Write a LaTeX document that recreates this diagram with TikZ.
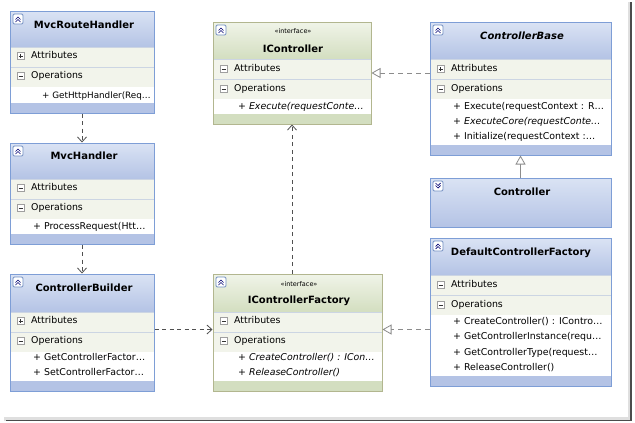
\documentclass[tikz,border=0pt]{standalone}
\usepackage{fontspec}
\setmainfont{DejaVu Sans}
\usetikzlibrary{arrows.meta,calc,fit,positioning}

\definecolor{clsline}{HTML}{7E9ED6}
\definecolor{clstop}{HTML}{DAE3F4}
\definecolor{clsbot}{HTML}{B4C3E5}
\definecolor{ifcline}{HTML}{B2B68F}
\definecolor{ifctop}{HTML}{F0F4E8}
\definecolor{ifcbot}{HTML}{D3DEC0}
\definecolor{rowfill}{HTML}{F2F4EB}
\definecolor{rowline}{HTML}{CCD5E3}
\definecolor{depgray}{HTML}{505050}
\definecolor{relgray}{HTML}{8C8C8C}

% class frame: name, left, top, right, header bottom, bottom, kind (cls/ifc)
\newcommand{\umlbox}[7]{%
  \shade[top color=#7top, bottom color=#7bot] (#2,#3) rectangle (#4,#5);
  \fill[rowfill] (#2,#5) rectangle (#4,#5+40);
  \fill[white] (#2,#5+40) rectangle (#4,#6-10);
  \fill[#7bot] (#2,#6-10) rectangle (#4,#6);
  \draw[rowline] (#2,#5) -- (#4,#5) (#2,#5+20) -- (#4,#5+20);
  \node[draw=#7line, line width=1pt, inner sep=0pt, fit={(#2,#3) (#4,#6)}] (#1) {};
}
% collapse button: top-left x, y, 1 = open, -1 = closed
\newcommand{\foldicon}[3]{%
  \draw[iconline, fill=white, rounded corners=1.2pt] (#1,#2) rectangle ++(10,10);
  \begin{scope}[shift={(#1+5,#2+5)}, yscale=#3]
    \draw[iconmark] (-2.5,0.5) -- (0,-2) -- (2.5,0.5) (-2.5,3) -- (0,0.5) -- (2.5,3);
  \end{scope}
}
% compartment button: centre x, y, 1 = plus
\newcommand{\expbox}[3]{%
  \draw[expline, fill=white] (#1-3.5,#2-3.5) rectangle (#1+3.5,#2+3.5);
  \draw[expmark] (#1-2,#2) -- (#1+2,#2);
  \ifnum#3=1 \draw[expmark] (#1,#2-2) -- (#1,#2+2);\fi
}

\begin{document}
\begin{tikzpicture}[
  x=1pt, y=-1pt,
  font=\fontsize{9.4}{10}\selectfont,
  iconline/.style={draw=clsline!90!black, line width=0.8pt},
  iconmark/.style={draw=blue!45!black, line width=0.7pt},
  expline/.style={draw=gray!75, line width=0.6pt},
  expmark/.style={draw=black!80, line width=0.8pt},
  title/.style={inner sep=0pt, font=\fontsize{10}{11}\selectfont\bfseries},
  stereo/.style={inner sep=0pt, font=\fontsize{6.5}{7}\selectfont},
  comp/.style={anchor=west, inner sep=0pt, text height=7pt, text depth=2pt},
  member/.style={anchor=west, inner sep=0pt, text height=7pt, text depth=2pt},
  dep/.style={draw=depgray, line width=0.8pt, dash pattern=on 4pt off 3.5pt,
    -{Straight Barb[length=5pt,width=9pt]}},
  real/.style={draw=relgray, line width=0.8pt, dash pattern=on 5pt off 4pt,
    -{Triangle[open,length=9pt,width=10pt,fill=white]}},
  gen/.style={draw=relgray, line width=0.8pt,
    -{Triangle[open,length=9pt,width=10pt,fill=white]}}
]
\fill[white] (0,0) rectangle (635,423);
\useasboundingbox (0,0) rectangle (635,423);

% window shadow
\fill[gray!25] (628,2) rectangle (632,421);
\fill[gray!25] (4,417) rectangle (632,421);
\draw[black!70, line width=1.4pt] (631,2) -- (631,420.3) -- (6,420.3);

% MvcRouteHandler
\umlbox{mrh}{10}{11}{154}{47}{113}{cls}
\foldicon{13}{14}{1}
\node[title] (mrh-t) at (84,25) {MvcRouteHandler};
\expbox{20.5}{56}{1}
\node[comp] (mrh-a) at (31,56) {Attributes};
\expbox{20.5}{76}{0}
\node[comp] (mrh-o) at (31,76) {Operations};
\node[member, font=\fontsize{8.8}{10}\selectfont] (mrh-m1) at (42,96) {+ GetHttpHandler(Req\dots};

% MvcHandler
\umlbox{mh}{10}{143}{154}{179}{244}{cls}
\foldicon{13}{146}{1}
\node[title] (mh-t) at (84,156) {MvcHandler};
\expbox{20.5}{188}{0}
\node[comp] (mh-a) at (31,188) {Attributes};
\expbox{20.5}{208}{0}
\node[comp] (mh-o) at (31,208) {Operations};
\node[member] (mh-m1) at (33,227) {+ ProcessRequest(Htt\dots};

% ControllerBuilder
\umlbox{cb}{10}{274}{154}{312}{391}{cls}
\foldicon{13}{277}{1}
\node[title] (cb-t) at (84,288) {ControllerBuilder};
\expbox{20.5}{321}{1}
\node[comp] (cb-a) at (31,321) {Attributes};
\expbox{20.5}{341}{0}
\node[comp] (cb-o) at (31,341) {Operations};
\node[member] (cb-m1) at (33,358) {+ GetControllerFactor\dots};
\node[member] (cb-m2) at (33,373) {+ SetControllerFactor\dots};

% IController
\umlbox{ictl}{213}{22}{371}{59}{124}{ifc}
\foldicon{216}{25}{1}
\node[stereo] (ictl-s) at (293,31) {«interface»};
\node[title] (ictl-t) at (293,49) {IController};
\expbox{223.5}{69}{0}
\node[comp] (ictl-a) at (234,69) {Attributes};
\expbox{223.5}{89}{0}
\node[comp] (ictl-o) at (234,89) {Operations};
\node[member, font=\fontsize{9.4}{10}\selectfont\itshape] (ictl-m1) at (238,107) {+ Execute(requestConte\dots};

% IControllerFactory
\umlbox{icf}{213}{274}{382}{312}{391}{ifc}
\foldicon{216}{277}{1}
\node[stereo] (icf-s) at (299,284) {«interface»};
\node[title] (icf-t) at (299,301) {IControllerFactory};
\expbox{223.5}{321}{0}
\node[comp] (icf-a) at (234,321) {Attributes};
\expbox{223.5}{341}{0}
\node[comp] (icf-o) at (234,341) {Operations};
\node[member, font=\fontsize{9.4}{10}\selectfont\itshape] (icf-m1) at (238,358) {+ CreateController() : ICon\dots};
\node[member, font=\fontsize{9.4}{10}\selectfont\itshape] (icf-m2) at (238,373) {+ ReleaseController()};

% ControllerBase
\umlbox{cbase}{430}{22}{611}{59}{155}{cls}
\foldicon{433}{25}{1}
\node[title, font=\fontsize{10}{11}\selectfont\bfseries\itshape] (cbase-t) at (522,36) {ControllerBase};
\expbox{440.5}{69}{1}
\node[comp] (cbase-a) at (451,69) {Attributes};
\expbox{440.5}{89}{0}
\node[comp] (cbase-o) at (451,89) {Operations};
\node[member] (cbase-m1) at (453,107) {+ Execute(requestContext : R\dots};
\node[member, font=\fontsize{9.4}{10}\selectfont\itshape] (cbase-m2) at (453,122) {+ ExecuteCore(requestConte\dots};
\node[member] (cbase-m3) at (453,137) {+ Initialize(requestContext :\dots};

% Controller (collapsed)
\shade[top color=clstop, bottom color=clsbot] (430,178) rectangle (611,227);
\node[draw=clsline, line width=1pt, inner sep=0pt, fit={(430,178) (611,227)}] (ctl) {};
\foldicon{433}{181}{-1}
\node[title] (ctl-t) at (522,192) {Controller};

% DefaultControllerFactory
\umlbox{dcf}{430}{238}{611}{275}{386}{cls}
\foldicon{433}{241}{1}
\node[title] (dcf-t) at (521,253) {DefaultControllerFactory};
\expbox{440.5}{285}{0}
\node[comp] (dcf-a) at (451,285) {Attributes};
\expbox{440.5}{305}{0}
\node[comp] (dcf-o) at (451,305) {Operations};
\node[member] (dcf-m1) at (453,322) {+ CreateController() : IContro\dots};
\node[member] (dcf-m2) at (453,337) {+ GetControllerInstance(requ\dots};
\node[member] (dcf-m3) at (453,353) {+ GetControllerType(request\dots};
\node[member] (dcf-m4) at (453,368) {+ ReleaseController()};

% dependencies
\draw[dep] (mrh) -- (mh);
\draw[dep] (mh) -- (cb);
\draw[dep] ($(cb.east)+(0,-3)$) -- ($(icf.west)+(0,-3)$);
\draw[dep] (icf.north -| ictl.south) -- (ictl.south);

% realizations and inheritance
\draw[real] (cbase.west |- ictl.east) -- (ictl.east);
\draw[real] ($(dcf.west |- icf.east)+(0,-3)$) -- ($(icf.east)+(0,-3)$);
\draw[gen] (ctl) -- (cbase);
\end{tikzpicture}
\end{document}
